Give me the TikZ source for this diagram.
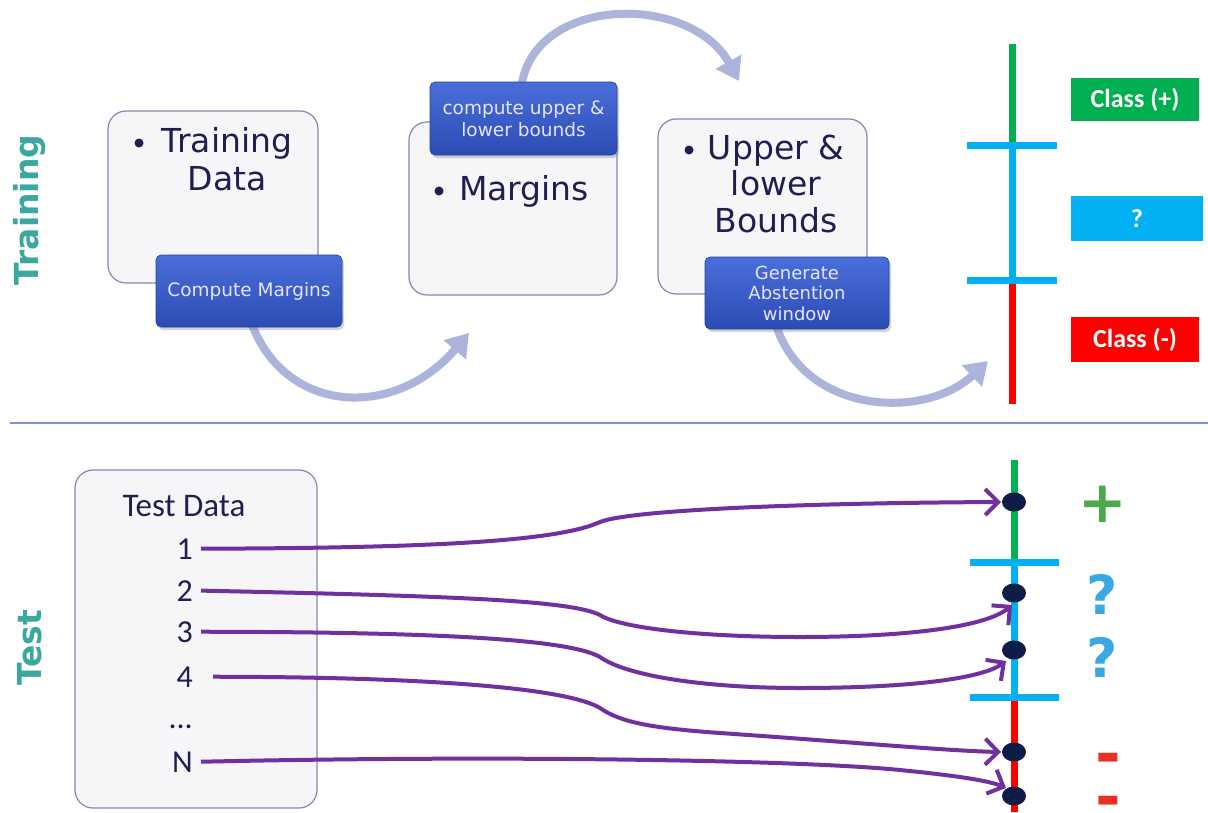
\documentclass[tikz,border=0pt]{standalone}
\usepackage{fontspec}
\setmainfont{DejaVu Sans}
\newfontfamily\calfont{Carlito}
\usetikzlibrary{arrows.meta,shapes.geometric,shadows}
\definecolor{teal1}{RGB}{58,168,158}
\definecolor{boxfill}{RGB}{246,246,249}
\definecolor{boxline}{RGB}{135,135,178}
\definecolor{navytext}{RGB}{32,32,80}
\definecolor{bluetop}{RGB}{74,110,218}
\definecolor{bluebot}{RGB}{44,76,180}
\definecolor{lav}{RGB}{172,180,220}
\definecolor{purp}{RGB}{112,48,160}
\definecolor{gr}{RGB}{0,176,80}
\definecolor{cy}{RGB}{0,176,240}
\definecolor{rd}{RGB}{255,0,0}
\definecolor{dotc}{RGB}{14,28,72}
\definecolor{plusg}{RGB}{76,168,72}
\definecolor{qc}{RGB}{60,168,226}
\definecolor{minr}{RGB}{232,48,40}
\definecolor{divc}{RGB}{125,145,205}
\begin{document}
\begin{tikzpicture}[x=1pt,y=-1pt,
 softbox/.style={draw=boxline, line width=1.2pt, fill=boxfill, rounded corners=18pt, inner sep=0},
 bluebox/.style={rounded corners=5pt, top color=bluetop, bottom color=bluebot, draw=bluebot!85!black, line width=0.6pt,
   drop shadow={opacity=0.35,shadow xshift=2pt,shadow yshift=-3pt}, text=white!90!blue, align=center,
   font=\fontsize{18.5}{21}\selectfont, inner sep=0},
 bigtext/.style={text=navytext, font=\fontsize{33}{38}\selectfont, inner sep=0, anchor=base},
 bulletdot/.style={circle, fill=navytext, minimum size=9pt, inner sep=0},
 flow/.style={draw=lav, line width=8pt, -{Triangle[length=22pt,width=28pt]}},
 tline/.style={line width=4pt, draw=purp, -{Straight Barb[length=13pt,width=26pt]}},
 sidelabel/.style={rotate=90, font=\bfseries\fontsize{33}{33}\selectfont, text=teal1, inner sep=0},
 classbox/.style={text=white, font=\calfont\bfseries\fontsize{26}{26}\selectfont, inner sep=0, minimum width=128pt, minimum height=43pt},
 num/.style={text=navytext, font=\calfont\fontsize{32}{32}\selectfont, inner sep=0, anchor=base east},
 tdot/.style={ellipse, fill=dotc, minimum width=24pt, minimum height=19pt, inner sep=0},
 axis/.style={line width=7pt},
]
\useasboundingbox (0,0) rectangle (1208,812);
\fill[white] (0,0) rectangle (1208,812);

% side labels
\node[sidelabel] (trainlbl) at (30,210) {Training};
\node[sidelabel] (testlbl) at (30,648) {Test};

% divider
\coordinate (dva) at (10,423);
\coordinate (dvb) at (1208,423);
\draw[divc, line width=2pt] (dva) -- (dvb);

% soft boxes
\node[softbox, minimum width=210pt, minimum height=172pt] (box1) at (213,197) {};
\node[softbox, minimum width=208pt, minimum height=173pt] (box2) at (513,208.5) {};
\node[softbox, minimum width=209pt, minimum height=175pt] (box3) at (762.5,206.5) {};

% box texts
\node[bulletdot] (bu1) at (139,143) {};
\node[bigtext] (t1a) at (227,152) {Training};
\node[bigtext] (t1b) at (227,190) {Data};
\node[bulletdot] (bu2) at (439,191) {};
\node[bigtext] (t2a) at (524,200) {Margins};
\node[bulletdot] (bu3) at (689,150) {};
\node[bigtext] (t3a) at (776,159) {Upper \&};
\node[bigtext] (t3b) at (776,195) {lower};
\node[bigtext] (t3c) at (776,232) {Bounds};

% big flow arrows
\coordinate (fa0) at (251,322);
\coordinate (fa1) at (469,333);
\draw[flow] (fa0) .. controls (285,415) and (395,420) .. (fa1);
\coordinate (fb0) at (521,90);
\coordinate (fb1) at (739,81);
\draw[flow] (fb0) .. controls (530,-5) and (690,-8) .. (fb1);
\coordinate (fc0) at (776,325);
\coordinate (fc1) at (988,361);
\draw[flow] (fc0) .. controls (805,415) and (925,420) .. (fc1);

% blue boxes
\node[bluebox, minimum width=186pt, minimum height=72pt] (bb1) at (249,291) {Compute Margins};
\node[bluebox, minimum width=187pt, minimum height=73pt, font=\fontsize{18.5}{22}\selectfont] (bb2) at (523.5,118.5) {compute upper \&\\lower bounds};
\node[bluebox, minimum width=184pt, minimum height=72pt, font=\fontsize{18}{20.5}\selectfont] (bb3) at (797,293) {Generate\\Abstention\\window};

% training axis
\coordinate (ta0) at (1012,44);
\coordinate (ta1) at (1012,145);
\coordinate (ta2) at (1012,280);
\coordinate (ta3) at (1012,404);
\draw[axis, gr] (ta0) -- (ta1);
\draw[axis, cy] (ta1) -- (ta2);
\draw[axis, rd] (ta2) -- (ta3);
\coordinate (tk1a) at (967,145);
\coordinate (tk1b) at (1057,145);
\coordinate (tk2a) at (967,280);
\coordinate (tk2b) at (1057,280);
\draw[axis, cy] (tk1a) -- (tk1b);
\draw[axis, cy] (tk2a) -- (tk2b);

\node[classbox, fill=gr] (cplus) at (1135,99.5) {Class (+)};
\node[classbox, fill=cy, minimum width=132pt, minimum height=45pt] (cq) at (1137,218.5) {?};
\node[classbox, fill=rd, minimum height=45pt] (cminus) at (1135,339.5) {Class (-)};

% test section
\node[softbox, minimum width=242pt, minimum height=338pt] (tbox) at (196,639) {};
\node[text=navytext, font=\calfont\fontsize{33}{33}\selectfont, inner sep=0, anchor=base] (tdata) at (184,516) {Test Data};
\node[num] (n1) at (193,559) {1};
\node[num] (n2) at (193,601) {2};
\node[num] (n3) at (193,642) {3};
\node[num] (n4) at (193,687) {4};
\node[num] (ndots) at (193,728) {...};
\node[num] (nN) at (193,772) {N};

% test axis
\coordinate (sa0) at (1014,460);
\coordinate (sa1) at (1014,562);
\coordinate (sa2) at (1014,697);
\coordinate (sa3) at (1014,812);
\draw[axis, gr] (sa0) -- (sa1);
\draw[axis, cy] (sa1) -- (sa2);
\draw[axis, rd] (sa2) -- (sa3);
\coordinate (sk1a) at (970,562);
\coordinate (sk1b) at (1059,562);
\coordinate (sk2a) at (970,697);
\coordinate (sk2b) at (1059,697);
\draw[axis, cy] (sk1a) -- (sk1b);
\draw[axis, cy] (sk2a) -- (sk2b);

% result labels
\node[text=plusg, font=\bfseries\fontsize{58}{58}\selectfont, inner sep=0] (rplus) at (1103,504) {+};
\node[text=qc, font=\bfseries\fontsize{54}{54}\selectfont, inner sep=0] (rq1) at (1102,594) {?};
\node[text=qc, font=\bfseries\fontsize{54}{54}\selectfont, inner sep=0] (rq2) at (1102,657) {?};
\node[text=minr, font=\bfseries\fontsize{62}{62}\selectfont, inner sep=0] (rm1) at (1108,764) {-};
\node[text=minr, font=\bfseries\fontsize{62}{62}\selectfont, inner sep=0] (rm2) at (1108,807) {-};

% connectors
\draw[tline] ([xshift=8pt]n1.east) .. controls (450,548) and (560,540) .. (600,522)
   .. controls (630,510) and (800,503) .. (1001,502);
\draw[tline] ([xshift=8pt]n2.east) .. controls (450,596) and (570,600) .. (600,615)
   .. controls (620,628) and (700,637) .. (800,637) .. controls (900,637) and (985,628) .. (1012,605);
\draw[tline] ([xshift=8pt]n3.east) .. controls (450,632) and (570,640) .. (600,657)
   .. controls (625,675) and (700,688) .. (800,688) .. controls (900,688) and (980,680) .. (1006,661);
\draw[tline] ([xshift=20pt]n4.east) .. controls (450,677) and (570,690) .. (600,708)
   .. controls (620,722) and (650,728) .. (720,733) .. controls (850,742) and (950,751) .. (1001,752);
\draw[tline] ([xshift=8pt]nN.east) .. controls (500,755) and (800,760) .. (900,770)
   .. controls (960,776) and (990,781) .. (1006,788);

% dots on top
\node[tdot] (d1) at (1014,502) {};
\node[tdot] (d2) at (1014,593) {};
\node[tdot] (d3) at (1014,650) {};
\node[tdot] (d4) at (1014,752) {};
\node[tdot] (d5) at (1014,796) {};
\end{tikzpicture}
\end{document}
